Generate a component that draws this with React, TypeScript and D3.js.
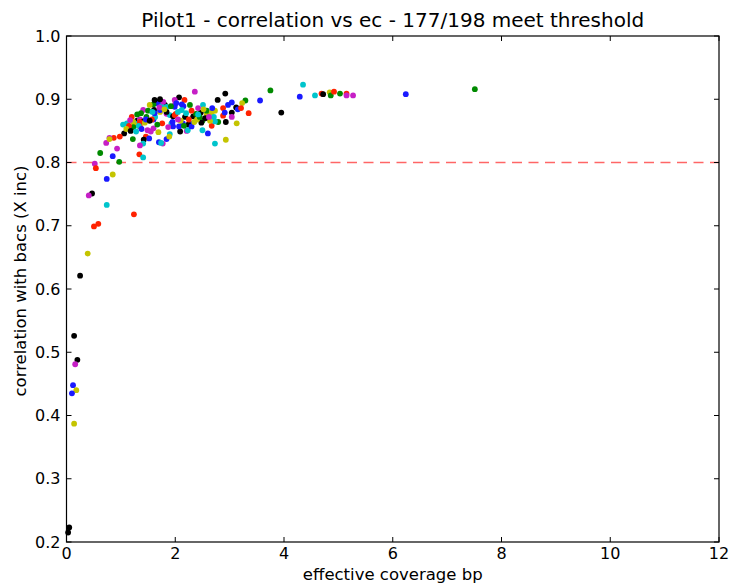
import React from "react";
import * as d3 from "d3";

const W = 729;
const H = 586;

const TITLE = "Pilot1 - correlation vs ec - 177/198 meet threshold";
const X_LABEL = "effective coverage bp";
const Y_LABEL = "correlation with bacs (X inc)";
const X_TICKS = [0, 2, 4, 6, 8, 10, 12];
const Y_TICKS = [0.2, 0.3, 0.4, 0.5, 0.6, 0.7, 0.8, 0.9, 1.0];
const THRESHOLD = 0.8;

// x (effective coverage), y (correlation), c (matplotlib colour code)
const xs = [
  0.52, 0.54, 0.74, 0.85, 0.47, 0.41, 0.74, 1.24, 0.585, 0.505, 0.39, 0.25, 0.14, 0.2, 0.16, 0.12, 0.18, 0.1, 0.14, 0.05, 0.03,
  3.75, 4.35, 4.29, 4.57, 4.69, 4.72, 4.84, 4.86, 4.92, 5.03, 5.15, 5.15, 5.27, 6.24, 7.51, 3.56, 3.95, 3.35, 3.13, 3.29,
  3.23, 2.92, 2.78, 3.04, 2.97, 2.88, 3.12, 3.15, 3.21, 3.04, 3.04, 2.93, 2.88, 2.91, 2.93, 2.73, 2.6, 2.5, 2.67, 2.79,
  2.73, 2.64, 2.5, 2.48, 2.58, 2.58, 2.47, 2.73, 2.51, 2.67, 2.36, 2.42, 2.71,
  2.07, 1.99, 2.15, 2.27, 2.12, 2.18, 2.33, 2.38, 2.27, 2.24, 2.09, 2.21, 2.14, 1.66, 1.69, 1.6, 1.53, 1.81, 1.75, 1.41,
  1.5, 1.61, 1.3, 1.2, 1.23, 1.04, 1.11, 1.32, 1.35, 1.41, 1.26, 1.23, 1.35, 1.49, 1.47, 1.6, 1.63, 1.72, 1.84, 1.9,
  1.96, 2.01, 1.93, 1.96, 1.87, 1.9, 1.84, 1.46, 1.55, 1.69, 1.52, 1.42, 1.41, 1.7, 1.77, 1.06, 0.98, 0.87, 0.79, 0.73,
  1.22, 0.93, 0.62, 0.85, 1.34, 1.41, 0.97, 0.79, 1.35, 2.07, 2.23, 2.3, 1.99, 2.17, 2.12, 1.89, 1.78, 1.84, 1.72, 1.84,
  1.37, 1.99, 1.99, 1.95, 1.17, 1.35, 1.33, 1.57, 1.44, 1.46, 1.53, 1.6, 1.74,
  2.4, 2.2, 2.3, 2.45, 1.72, 1.3, 1.62, 2.1, 1.76, 2.05,
  1.62, 1.71, 1.58, 1.8, 1.92, 2.02, 2.25, 2.35, 2.42, 2.55, 2.62, 2.68, 2.16, 1.15, 1.1, 1.18, 1.28, 1.38, 1.67, 2.05, 2.52,
];
const ys = [
  0.798, 0.791, 0.774, 0.781, 0.751, 0.748, 0.733, 0.718, 0.703, 0.699, 0.656, 0.621, 0.526, 0.488, 0.481, 0.448, 0.44, 0.435, 0.387, 0.223, 0.215,
  0.914, 0.923, 0.904, 0.906, 0.909, 0.908, 0.911, 0.906, 0.912, 0.909, 0.909, 0.906, 0.906, 0.908, 0.916, 0.898, 0.879, 0.878, 0.862, 0.898,
  0.894, 0.909, 0.899, 0.895, 0.891, 0.886, 0.887, 0.884, 0.886, 0.879, 0.872, 0.864, 0.874, 0.879, 0.836, 0.83, 0.846, 0.851, 0.858, 0.864,
  0.865, 0.866, 0.866, 0.863, 0.877, 0.882, 0.879, 0.882, 0.891, 0.879, 0.912, 0.886, 0.872,
  0.903, 0.891, 0.889, 0.891, 0.883, 0.872, 0.873, 0.877, 0.862, 0.86, 0.849, 0.85, 0.862, 0.896, 0.893, 0.892, 0.891, 0.891, 0.889, 0.883,
  0.882, 0.883, 0.866, 0.872, 0.864, 0.86, 0.862, 0.862, 0.868, 0.865, 0.859, 0.856, 0.857, 0.851, 0.872, 0.868, 0.872, 0.88, 0.877, 0.875,
  0.873, 0.877, 0.862, 0.857, 0.856, 0.845, 0.837, 0.841, 0.849, 0.848, 0.838, 0.836, 0.83, 0.832, 0.83, 0.846, 0.841, 0.839, 0.839, 0.831,
  0.837, 0.822, 0.815, 0.81, 0.813, 0.808, 0.801, 0.837, 0.827, 0.857, 0.851, 0.857, 0.899, 0.899, 0.892, 0.841, 0.896, 0.888, 0.883, 0.88,
  0.878, 0.888, 0.875, 0.864, 0.867, 0.864, 0.858, 0.868, 0.863, 0.868, 0.866, 0.854, 0.831,
  0.868, 0.878, 0.882, 0.872, 0.9, 0.876, 0.878, 0.866, 0.862, 0.88,
  0.899, 0.887, 0.88, 0.884, 0.889, 0.894, 0.868, 0.864, 0.876, 0.87, 0.872, 0.886, 0.858, 0.858, 0.853, 0.85, 0.849, 0.853, 0.86, 0.868, 0.884,
];
const cs = [
  "m", "r", "b", "y", "k", "m", "c", "r", "r", "r", "y", "k", "k", "k", "m", "b", "y", "b", "y", "k", "k",
  "g", "c", "b", "c", "r", "k", "y", "g", "r", "g", "r", "m", "m", "b", "g", "b", "k", "r", "y", "g",
  "y", "k", "k", "b", "b", "r", "k", "b", "r", "k", "m", "k", "r", "b", "y", "c", "b", "c", "r", "g",
  "c", "y", "g", "k", "y", "g", "k", "y", "c", "y", "m", "m", "c",
  "k", "m", "b", "g", "c", "k", "k", "g", "b", "k", "k", "m", "b", "k", "b", "g", "y", "k", "c", "m",
  "g", "k", "k", "r", "y", "c", "c", "c", "m", "k", "y", "g", "r", "m", "g", "b", "c", "y", "m", "c",
  "k", "r", "c", "b", "m", "c", "b", "r", "m", "y", "b", "k", "c", "b", "m", "k", "r", "r", "m", "m",
  "g", "m", "g", "b", "r", "c", "g", "y", "m", "b", "c", "b", "m", "r", "b", "y", "m", "c", "b", "k",
  "g", "b", "r", "b", "m", "r", "c", "r", "y", "b", "k", "m", "c",
  "y", "c", "r", "g", "k", "g", "b", "y", "r", "c",
  "k", "m", "c", "y", "g", "b", "r", "y", "c", "k", "m", "b", "g", "r", "y", "k", "c", "b", "g", "m", "y",
];

const COLORS: Record<string, string> = {
  b: "#1a1aff",
  g: "#008a00",
  r: "#ff2200",
  c: "#00c4cc",
  m: "#c61fc6",
  y: "#c4c400",
  k: "#000000",
};

export default function App() {
  const left = 66.5;
  const right = 719;
  const top = 36;
  const bottom = 542;
  const x = d3.scaleLinear().domain([0, 12]).range([left, right]);
  const y = d3.scaleLinear().domain([0.2, 1.0]).range([bottom, top]);
  const font = "'DejaVu Sans', sans-serif";
  const fmtY = d3.format(".1f");
  const tickLen = 5;

  return (
    <svg
      width={W}
      height={H}
      style={{ position: "absolute", left: 0, top: 0, background: "#fff" }}
      fontFamily={font}
    >
      <rect x={0} y={0} width={W} height={H} fill="#fff" />
      <text x={(left + right) / 2} y={27} textAnchor="middle" fontSize={20} fill="#000">
        {TITLE}
      </text>

      {/* threshold */}
      <line
        x1={x(0)}
        x2={x(12)}
        y1={y(THRESHOLD)}
        y2={y(THRESHOLD)}
        stroke="#ff0000"
        strokeOpacity={0.6}
        strokeWidth={1.6}
        strokeDasharray="10,6.5"
      />

      {/* points */}
      {xs.map((v, i) => (
        <circle key={i} cx={x(v)} cy={y(ys[i])} r={2.9} fill={COLORS[cs[i]]} />
      ))}

      {/* frame */}
      <rect x={left} y={top} width={right - left} height={bottom - top} fill="none" stroke="#000" strokeWidth={1.2} />

      {/* x ticks */}
      {X_TICKS.map((t) => (
        <g key={"x" + t}>
          <line x1={x(t)} x2={x(t)} y1={bottom} y2={bottom - tickLen} stroke="#000" strokeWidth={1} />
          <line x1={x(t)} x2={x(t)} y1={top} y2={top + tickLen} stroke="#000" strokeWidth={1} />
          <text x={x(t)} y={bottom + 17} textAnchor="middle" fontSize={16} fill="#000">
            {t}
          </text>
        </g>
      ))}

      {/* y ticks */}
      {Y_TICKS.map((t) => (
        <g key={"y" + t}>
          <line x1={left} x2={left + tickLen} y1={y(t)} y2={y(t)} stroke="#000" strokeWidth={1} />
          <line x1={right} x2={right - tickLen} y1={y(t)} y2={y(t)} stroke="#000" strokeWidth={1} />
          <text x={left - 6} y={y(t) + 5.5} textAnchor="end" fontSize={16} fill="#000">
            {fmtY(t)}
          </text>
        </g>
      ))}

      <text x={(left + right) / 2} y={580} textAnchor="middle" fontSize={16.5} fill="#000">
        {X_LABEL}
      </text>
      <text
        transform={`translate(26, 281) rotate(-90)`}
        textAnchor="middle"
        fontSize={16.5}
        fill="#000"
      >
        {Y_LABEL}
      </text>
    </svg>
  );
}
